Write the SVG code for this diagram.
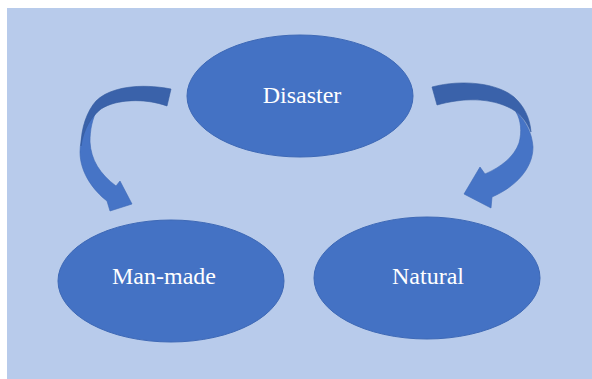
<svg xmlns="http://www.w3.org/2000/svg" width="592" height="379" viewBox="0 0 592 379">
<style>
.node{fill:#4472C4;stroke:#3E69B6;stroke-width:1}
.lbl{font-family:"Liberation Serif","Times New Roman",serif;font-size:24px;fill:#FFFFFF;text-anchor:middle}
.front{fill:#4674C6;stroke:#3D68B5;stroke-width:0.6}
.back{fill:#3A62AA;stroke:#345A9E;stroke-width:0.6}
</style>
<rect x="0" y="0" width="592" height="379" fill="#FFFFFF"/>
<rect x="7" y="8" width="585" height="371" fill="#B8CBEB"/>
<g id="connectors">
<g id="arrow-left">
<path class="front" d="M98,108 C92,119 90,130 90,142 C91,160 100,174 116,186 L120,181 L132,204 L110,211 L107,201 C94,191 80,173 80,152 C80,138 86,122 98,108 Z"/>
<path class="back" d="M171,89 C140,83 110,87 96,101 C87,111 81,128 81,146 C84,128 91,117 101,109 C116,99 145,98 167,106 Z"/>
</g>
<g id="arrow-right">
<path class="front" d="M516,112 C525,120 532,132 533,147 C533,169 515,187 492,197 L491,208 L464,194 L480,167 L485,174 C501,167 514,157 519,143 C522,132 521,120 516,112 Z"/>
<path class="back" d="M432,87 C462,79 497,83 514,97 C524,106 530,118 531,132 C526,120 520,114 512,109 C490,97 462,98 437,105 Z"/>
</g>
</g>
<g id="node-disaster">
<ellipse class="node" cx="300" cy="96" rx="113" ry="61"/>
<text class="lbl" x="302" y="103">Disaster</text>
</g>
<g id="node-manmade">
<ellipse class="node" cx="171" cy="281" rx="113" ry="61"/>
<text class="lbl" x="164" y="284">Man-made</text>
</g>
<g id="node-natural">
<ellipse class="node" cx="427" cy="278" rx="113" ry="61"/>
<text class="lbl" x="428" y="284">Natural</text>
</g>
</svg>
